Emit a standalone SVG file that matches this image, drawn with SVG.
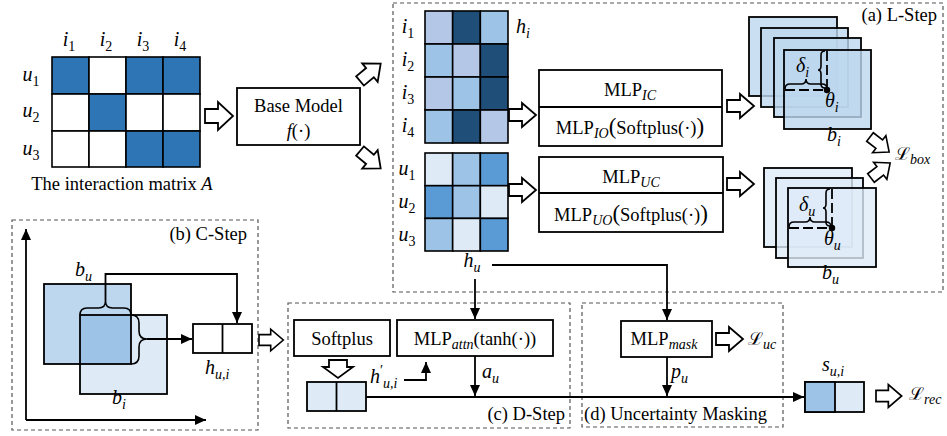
<svg xmlns="http://www.w3.org/2000/svg" width="947" height="436" viewBox="0 0 947 436">
<style>
.t{font-family:"Liberation Serif","Times New Roman",serif;font-size:18.5px;fill:#000}
.m{font-style:italic;font-size:20px}
.s{font-size:14px;font-style:normal}
.si{font-size:14px;font-style:italic}
.L{font-family:"DejaVu Serif","Noto Sans",serif;font-style:normal;font-size:18px}
.bx{fill:#fff;stroke:#000;stroke-width:1.8}
.dash{fill:none;stroke:#555;stroke-width:1.2;stroke-dasharray:4 3}
.cell{stroke:#000;stroke-width:1.6}
.ln{fill:none;stroke:#000;stroke-width:1.8}
.br{fill:none;stroke:#000;stroke-width:1.6}
.dl{fill:none;stroke:#000;stroke-width:1.8;stroke-dasharray:10 4}
.bA{fill:#BDD7EE;fill-opacity:0.8;stroke:#000;stroke-width:1.8}
.bU{fill:#DEEBF7;fill-opacity:0.8;stroke:#000;stroke-width:1.8}
.ar{fill:#fff;stroke:#000;stroke-width:1.8;stroke-linejoin:miter}
</style>
<defs>
<marker id="ah" markerUnits="userSpaceOnUse" markerWidth="11" markerHeight="10" refX="11" refY="5" orient="auto">
<path d="M0,0 L11,5 L0,10 Z" fill="#000"/>
</marker>
<path id="ba" class="ar" d="M0,-6 L13,-6 L13,-12 L27,0 L13,12 L13,6 L0,6 Z"/>
<path id="ba2" class="ar" d="M0,-7 L13,-7 L13,-14 L28,0 L13,14 L13,7 L0,7 Z"/>
</defs>
<rect width="947" height="436" fill="#fff"/>

<g id="frames">
<rect class="dash" x="393" y="3" width="550" height="289"/>
<rect class="dash" x="12" y="220" width="246" height="210"/>
<rect class="dash" x="288" y="303" width="282" height="125"/>
<rect class="dash" x="582" y="303" width="201" height="124"/>
<text class="t" x="937" y="21" text-anchor="end" font-size="19">(a) L-Step</text>
<text class="t" x="247" y="240" text-anchor="end" font-size="19">(b) C-Step</text>
<text class="t" x="565" y="420" text-anchor="end" font-size="19">(c) D-Step</text>
<text class="t" x="584" y="420" font-size="19">(d) Uncertainty Masking</text>
</g>

<g id="interaction-matrix">
<g class="cell">
<rect x="52" y="57" width="37" height="37" fill="#2E75B6"/>
<rect x="89" y="57" width="37" height="37" fill="#fff"/>
<rect x="126" y="57" width="37" height="37" fill="#2E75B6"/>
<rect x="163" y="57" width="37" height="37" fill="#2E75B6"/>
<rect x="52" y="94" width="37" height="37" fill="#fff"/>
<rect x="89" y="94" width="37" height="37" fill="#2E75B6"/>
<rect x="126" y="94" width="37" height="37" fill="#fff"/>
<rect x="163" y="94" width="37" height="37" fill="#fff"/>
<rect x="52" y="131" width="37" height="36" fill="#fff"/>
<rect x="89" y="131" width="37" height="36" fill="#fff"/>
<rect x="126" y="131" width="37" height="36" fill="#2E75B6"/>
<rect x="163" y="131" width="37" height="36" fill="#2E75B6"/>
</g>
<text class="t m" x="69" y="46" text-anchor="middle">i<tspan class="s" dy="5">1</tspan></text>
<text class="t m" x="106" y="46" text-anchor="middle">i<tspan class="s" dy="5">2</tspan></text>
<text class="t m" x="143" y="46" text-anchor="middle">i<tspan class="s" dy="5">3</tspan></text>
<text class="t m" x="180" y="46" text-anchor="middle">i<tspan class="s" dy="5">4</tspan></text>
<text class="t m" x="31" y="81" text-anchor="middle">u<tspan class="s" dy="5">1</tspan></text>
<text class="t m" x="31" y="117" text-anchor="middle">u<tspan class="s" dy="5">2</tspan></text>
<text class="t m" x="31" y="155" text-anchor="middle">u<tspan class="s" dy="5">3</tspan></text>
<text class="t" x="122" y="190" text-anchor="middle" font-size="19">The interaction matrix <tspan font-style="italic">A</tspan></text>
</g>

<g id="base-model">
<rect class="bx" x="237" y="88" width="123" height="57"/>
<text class="t" x="298.5" y="112" text-anchor="middle">Base Model</text>
<text class="t" x="298.5" y="137" text-anchor="middle"><tspan font-style="italic">f</tspan>(·)</text>
</g>

<g id="h-i">
<g class="cell">
<rect x="425" y="11" width="27.67" height="33" fill="#B4C7E7"/>
<rect x="452.67" y="11" width="27.67" height="33" fill="#1F4E79"/>
<rect x="480.33" y="11" width="27.67" height="33" fill="#9DC3E6"/>
<rect x="425" y="44" width="27.67" height="33" fill="#9DC3E6"/>
<rect x="452.67" y="44" width="27.67" height="33" fill="#B4C7E7"/>
<rect x="480.33" y="44" width="27.67" height="33" fill="#1F4E79"/>
<rect x="425" y="77" width="27.67" height="33" fill="#B4C7E7"/>
<rect x="452.67" y="77" width="27.67" height="33" fill="#9DC3E6"/>
<rect x="480.33" y="77" width="27.67" height="33" fill="#1F4E79"/>
<rect x="425" y="110" width="27.67" height="33" fill="#9DC3E6"/>
<rect x="452.67" y="110" width="27.67" height="33" fill="#1F4E79"/>
<rect x="480.33" y="110" width="27.67" height="33" fill="#B4C7E7"/>
</g>
<text class="t m" x="408" y="33" text-anchor="middle">i<tspan class="s" dy="5">1</tspan></text>
<text class="t m" x="408" y="66" text-anchor="middle">i<tspan class="s" dy="5">2</tspan></text>
<text class="t m" x="408" y="99" text-anchor="middle">i<tspan class="s" dy="5">3</tspan></text>
<text class="t m" x="408" y="132" text-anchor="middle">i<tspan class="s" dy="5">4</tspan></text>
<text class="t m" x="516" y="33">h<tspan class="si" dy="5">i</tspan></text>
</g>

<g id="h-u">
<g class="cell">
<rect x="425" y="153" width="27.67" height="32.7" fill="#DEEBF7"/>
<rect x="452.67" y="153" width="27.67" height="32.7" fill="#9DC3E6"/>
<rect x="480.33" y="153" width="27.67" height="32.7" fill="#5B9BD5"/>
<rect x="425" y="185.7" width="27.67" height="32.7" fill="#5B9BD5"/>
<rect x="452.67" y="185.7" width="27.67" height="32.7" fill="#9DC3E6"/>
<rect x="480.33" y="185.7" width="27.67" height="32.7" fill="#DEEBF7"/>
<rect x="425" y="218.4" width="27.67" height="32.6" fill="#9DC3E6"/>
<rect x="452.67" y="218.4" width="27.67" height="32.6" fill="#DEEBF7"/>
<rect x="480.33" y="218.4" width="27.67" height="32.6" fill="#5B9BD5"/>
</g>
<text class="t m" x="407" y="175" text-anchor="middle">u<tspan class="s" dy="5">1</tspan></text>
<text class="t m" x="407" y="208" text-anchor="middle">u<tspan class="s" dy="5">2</tspan></text>
<text class="t m" x="407" y="241" text-anchor="middle">u<tspan class="s" dy="5">3</tspan></text>
<text class="t m" x="472" y="267" text-anchor="middle">h<tspan class="si" dy="5">u</tspan></text>
</g>

<g id="mlp-item">
<rect class="bx" x="539" y="70" width="183" height="76"/>
<line class="ln" x1="539" y1="107" x2="722" y2="107"/>
<text class="t" x="630" y="96" text-anchor="middle">MLP<tspan class="si" dy="4">IC</tspan></text>
<text class="t" x="630" y="134" text-anchor="middle">MLP<tspan class="si" dy="4">IO</tspan><tspan dy="-4" font-size="23">(</tspan>Softplus(·)<tspan font-size="23">)</tspan></text>
</g>

<g id="mlp-user">
<rect class="bx" x="539" y="157" width="184" height="75"/>
<line class="ln" x1="539" y1="193" x2="723" y2="193"/>
<text class="t" x="631" y="183" text-anchor="middle">MLP<tspan class="si" dy="4">UC</tspan></text>
<text class="t" x="631" y="221" text-anchor="middle">MLP<tspan class="si" dy="4">UO</tspan><tspan dy="-4" font-size="23">(</tspan>Softplus(·)<tspan font-size="23">)</tspan></text>
</g>

<g id="box-bi">
<rect class="bA" x="749" y="17" width="88" height="79"/>
<rect class="bA" x="761" y="28" width="87" height="79"/>
<rect class="bA" x="774" y="38" width="87" height="79"/>
<rect class="bA" x="784" y="50" width="87" height="79"/>
<line class="dl" x1="785" y1="90" x2="827" y2="90"/>
<line class="dl" x1="827" y1="51" x2="827" y2="90"/>
<path class="br" d="M785,89 Q785,84 790,84 L801,84 Q806,84 806,79 Q806,84 811,84 L822,84 Q827,84 827,89"/>
<path class="br" d="M825,51 Q821,51 821,55 L821,66 Q821,70 818,70 Q821,70 821,74 L821,84 Q821,88 825,88"/>
<circle cx="827" cy="90" r="3.2" fill="#000"/>
<text class="t m" x="796" y="72">δ<tspan class="si" dy="5">i</tspan></text>
<text class="t m" x="825" y="107">θ<tspan class="si" dy="5">i</tspan></text>
<text class="t m" x="827" y="141">b<tspan class="si" dy="5">i</tspan></text>
</g>

<g id="box-bu">
<rect class="bU" x="764" y="168" width="88" height="79"/>
<rect class="bU" x="776" y="178" width="87" height="80"/>
<rect class="bU" x="788" y="188" width="88" height="79"/>
<line class="dl" x1="789" y1="228" x2="832" y2="228"/>
<line class="dl" x1="832" y1="189" x2="832" y2="228"/>
<path class="br" d="M789,227 Q789,222 794,222 L805,222 Q810,222 810,217 Q810,222 815,222 L826,222 Q831,222 831,227"/>
<path class="br" d="M830,189 Q826,189 826,193 L826,204 Q826,208 823,208 Q826,208 826,212 L826,222 Q826,226 830,226"/>
<circle cx="832" cy="228" r="3.2" fill="#000"/>
<text class="t m" x="799" y="211">δ<tspan class="si" dy="5">u</tspan></text>
<text class="t m" x="824" y="245">θ<tspan class="si" dy="5">u</tspan></text>
<text class="t m" x="822" y="279">b<tspan class="si" dy="5">u</tspan></text>
</g>

<g id="loss-box">
<text class="t" x="895" y="160"><tspan class="L">ℒ</tspan><tspan class="si" dy="4">box</tspan></text>
</g>

<g id="c-step">
<rect x="44" y="284" width="87" height="80" fill="#BDD7EE"/>
<rect x="80" y="315" width="87" height="79" fill="#DEEBF7"/>
<rect x="80" y="315" width="51" height="49" fill="#9DC3E6"/>
<rect class="ln" x="44" y="284" width="87" height="80"/>
<rect class="ln" x="80" y="315" width="87" height="79"/>
<path class="br" d="M80,315 Q80,308 87,308 L98.5,308 Q105.5,308 105.5,301 Q105.5,308 112.5,308 L124,308 Q131,308 131,315"/>
<path class="br" d="M131,315 Q139,315 139,323 L139,331 Q139,339 147,339 Q139,339 139,347 L139,356 Q139,364 131,364"/>
<text class="t m" x="75" y="276">b<tspan class="si" dy="5">u</tspan></text>
<text class="t m" x="112" y="404">b<tspan class="si" dy="5">i</tspan></text>
</g>

<g id="h-ui">
<rect class="bx" x="193" y="324" width="59" height="29"/>
<line class="ln" x1="222.5" y1="324" x2="222.5" y2="353"/>
<text class="t m" x="205" y="374">h<tspan class="si" dy="5">u,i</tspan></text>
</g>

<g id="softplus">
<rect class="bx" x="294" y="320" width="96" height="36"/>
<text class="t" x="342" y="345" text-anchor="middle">Softplus</text>
</g>

<g id="mlp-attn">
<rect class="bx" x="397" y="320" width="156" height="36"/>
<text class="t" x="475" y="345" text-anchor="middle">MLP<tspan class="si" dy="4">attn</tspan><tspan dy="-4">(tanh(·))</tspan></text>
</g>

<g id="h-prime">
<rect x="307" y="382" width="59" height="29" fill="#DEEBF7" stroke="#000" stroke-width="1.8"/>
<line class="ln" x1="336.5" y1="382" x2="336.5" y2="411"/>
<text class="t m" x="370" y="383">h<tspan class="s" dy="-8">′</tspan><tspan class="si" dy="13">u,i</tspan></text>
</g>

<g id="mlp-mask">
<rect class="bx" x="621" y="321" width="91" height="36"/>
<text class="t" x="664" y="345" text-anchor="middle">MLP<tspan class="si" dy="4">mask</tspan></text>
<text class="t" x="748" y="345"><tspan class="L">ℒ</tspan><tspan class="si" dy="4">uc</tspan></text>
</g>

<g id="s-ui">
<rect x="805" y="382" width="59" height="30" fill="#DEEBF7" stroke="#000" stroke-width="1.8"/>
<rect x="805" y="382" width="30" height="30" fill="#9DC3E6" stroke="#000" stroke-width="1.8"/>
<text class="t m" x="822" y="371">s<tspan class="si" dy="5">u,i</tspan></text>
<text class="t" x="909" y="400"><tspan class="L">ℒ</tspan><tspan class="si" dy="4">rec</tspan></text>
</g>

<g id="connectors">
<path class="ln" d="M26,420 V229" marker-end="url(#ah)"/>
<path class="ln" d="M26,420 H206" marker-end="url(#ah)"/>
<path class="ln" d="M105.5,301 V274 H237 V323" marker-end="url(#ah)"/>
<path class="ln" d="M147,339 H192" marker-end="url(#ah)"/>
<path class="ln" d="M492,265 H667 V320" marker-end="url(#ah)"/>
<path class="ln" d="M475,279 V319" marker-end="url(#ah)"/>
<path class="ln" d="M475,356 V396" marker-end="url(#ah)"/>
<path class="ln" d="M667,357 V396" marker-end="url(#ah)"/>
<path class="ln" d="M366,397 H804" marker-end="url(#ah)"/>
<path class="ln" d="M404,380 H426 V362" marker-end="url(#ah)"/>
<text class="t m" x="482" y="378">a<tspan class="si" dy="5">u</tspan></text>
<text class="t m" x="671" y="378">p<tspan class="si" dy="5">u</tspan></text>
<use href="#ba2" transform="translate(205,116)"/>
<use href="#ba" transform="translate(360,81) rotate(-40)"/>
<use href="#ba" transform="translate(360,151) rotate(40)"/>
<use href="#ba" transform="translate(509,115)"/>
<use href="#ba" transform="translate(509,190)"/>
<use href="#ba" transform="translate(727,106)"/>
<use href="#ba" transform="translate(727,184)"/>
<use href="#ba" transform="translate(870,137) rotate(38) scale(0.9)"/>
<use href="#ba" transform="translate(871,178) rotate(-38) scale(0.9)"/>
<use href="#ba" transform="translate(259,340) scale(0.9)"/>
<path class="ar" d="M329,360 L347,360 L347,367 L353,367 L338,378 L323,367 L329,367 Z"/>
<use href="#ba" transform="translate(716,339)"/>
<use href="#ba" transform="translate(876,396) scale(0.95)"/>
</g>
</svg>
